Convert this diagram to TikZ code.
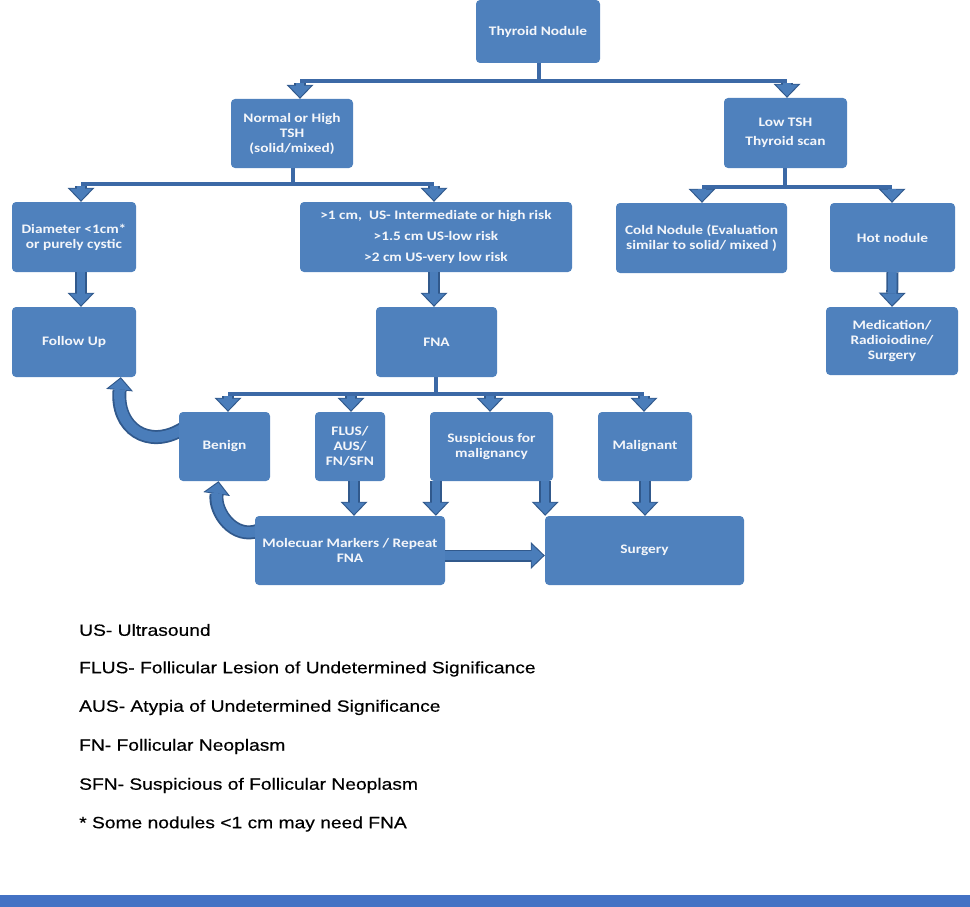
\documentclass[tikz,border=0pt]{standalone}
\usepackage{fontspec}
\newfontfamily\boxfont{Carlito}[FakeStretch=1.18,BoldFont={Carlito Bold}]
\newfontfamily\legfont{Liberation Sans}[FakeStretch=1.18,FakeBold=0.4]
\usetikzlibrary{arrows.meta,backgrounds}
\definecolor{boxblue}{HTML}{4F81BD}
\definecolor{arrfill}{HTML}{4A7DBA}
\definecolor{arrdark}{HTML}{31598C}
\definecolor{lineblue}{HTML}{3C69A6}
\definecolor{barblue}{HTML}{4472C4}
\definecolor{txtwhite}{HTML}{F4F6FA}
\tikzset{
  box/.style={fill=boxblue, rounded corners=4pt, inner sep=2pt, align=center,
    text=txtwhite, font=\boxfont\bfseries\fontsize{13}{15}\selectfont},
  blk/.style={line width=12pt, draw=arrdark,
    -{Triangle[width=27pt,length=14pt,line width=0pt]},
    postaction={draw=arrfill, line width=8.5pt,
      -{Triangle[width=22pt,length=11.5pt,line width=0pt]}, shorten >=1.6pt}},
  cblk/.style={line width=14pt, draw=arrdark,
    -{Triangle[width=27pt,length=13pt,line width=0pt]},
    postaction={draw=arrfill, line width=10.5pt,
      -{Triangle[width=22pt,length=10.5pt,line width=0pt]}, shorten >=1.6pt}},
  conn/.style={draw=lineblue, line width=4pt},
  leg/.style={anchor=west, inner sep=0pt, font=\legfont\fontsize{16.3}{18}\selectfont}
}
\begin{document}
\begin{tikzpicture}[x=1pt,y=-1pt]
\useasboundingbox (0,0) rectangle (970,907);
\fill[barblue] (0,895) rectangle (970,907);
% boxes
\node[box, minimum width=124pt, minimum height=63pt] (tn) at (538,31.5) {Thyroid Nodule};
\node[box, minimum width=122pt, minimum height=69pt] (nh) at (292,133.5) {Normal or High\\TSH\\(solid/mixed)};
\node[box, minimum width=123pt, minimum height=70pt, font=\boxfont\bfseries\fontsize{13}{19}\selectfont] (lt) at (785.5,133) {Low TSH\\Thyroid scan};
\node[box, minimum width=124pt, minimum height=70pt] (dm) at (74,237) {Diameter {<}1cm*\\or purely cystic};
\node[box, minimum width=272pt, minimum height=70pt, font=\boxfont\bfseries\fontsize{13}{21}\selectfont] (gt) at (436,237) {>1 cm,\ \ US- Intermediate or high risk\\>1.5 cm US-low risk\\>2 cm US-very low risk};
\node[box, minimum width=171pt, minimum height=70pt] (cn) at (701.5,238) {Cold Nodule (Evaluation\\similar to solid/ mixed )};
\node[box, minimum width=125pt, minimum height=69pt] (hn) at (892.5,237.5) {Hot nodule};
\node[box, minimum width=132pt, minimum height=68pt] (md) at (892,341) {Medication/\\Radioiodine/\\Surgery};
\node[box, minimum width=124pt, minimum height=70pt] (fu) at (74,342) {Follow Up};
\node[box, minimum width=121pt, minimum height=70pt] (fna) at (436.5,342) {FNA};
\node[box, minimum width=91pt, minimum height=69pt] (be) at (224.5,446.5) {Benign};
\node[box, minimum width=70pt, minimum height=69pt] (fl) at (350,446.5) {FLUS/\\AUS/\\FN/SFN};
\node[box, minimum width=123pt, minimum height=69pt] (su) at (491.5,446.5) {Suspicious for\\malignancy};
\node[box, minimum width=94pt, minimum height=69pt] (ma) at (645,446.5) {Malignant};
\node[box, minimum width=190pt, minimum height=69pt] (mo) at (350,550.5) {Molecuar Markers / Repeat\\FNA};
\node[box, minimum width=199pt, minimum height=69pt] (sg) at (644.5,550.5) {Surgery};
% junction coordinates
\coordinate (j1) at (539,81);
\coordinate (a1) at (300,81);
\coordinate (a2) at (787,81);
\coordinate (j2) at (293,184);
\coordinate (b1) at (81,184);
\coordinate (b2) at (434,184);
\coordinate (j3) at (785,187);
\coordinate (c1) at (702,187);
\coordinate (c2) at (892,187);
\coordinate (j4) at (436,394);
\coordinate (d1) at (228,394);
\coordinate (d2) at (351,394);
\coordinate (d3) at (490,394);
\coordinate (d4) at (644,394);
\begin{scope}[on background layer]
\draw[conn] (tn.south -| j1) -- (j1);
\draw[conn] (a1) -- (a2);
\draw[conn] (nh.south -| j2) -- (j2);
\draw[conn] (b1) -- (b2);
\draw[conn] (lt.south -| j3) -- (j3);
\draw[conn] (c1) -- (c2);
\draw[conn] (fna.south -| j4) -- (j4);
\draw[conn] (d1) -- (d4);
\end{scope}
% block arrows
\draw[blk] ([yshift=-2pt]a1) -- (a1 |- nh.north);
\draw[blk] ([yshift=-2pt]a2) -- (a2 |- lt.north);
\draw[blk] ([yshift=-2pt]b1) -- (b1 |- dm.north);
\draw[blk] ([yshift=-2pt]b2) -- (b2 |- gt.north);
\draw[blk] ([yshift=-2pt]c1) -- (c1 |- cn.north);
\draw[blk] ([yshift=-2pt]c2) -- (c2 |- hn.north);
\draw[blk] (hn.south) -- (md.north);
\draw[blk] ([xshift=7pt]dm.south) -- ([xshift=7pt]fu.north);
\draw[blk] ([xshift=-2pt]gt.south) -- ([xshift=-2.5pt]fna.north);
\draw[blk] ([yshift=-2pt]d1) -- (d1 |- be.north);
\draw[blk] ([yshift=-2pt]d2) -- (d2 |- fl.north);
\draw[blk] ([yshift=-2pt]d3) -- (d3 |- su.north);
\draw[blk] ([yshift=-2pt]d4) -- (d4 |- ma.north);
\draw[blk] ([xshift=4pt]fl.south) -- ([xshift=4pt]fl.south |- mo.north);
\draw[blk] ([xshift=6pt]su.south west) -- ([xshift=6pt]su.south west |- mo.north);
\draw[blk] ([xshift=-8pt]su.south east) -- ([xshift=-8pt]su.south east |- sg.north);
\draw[blk] (ma.south) -- (ma.south |- sg.north);
\draw[blk] ([yshift=-5pt]mo.east) -- ([yshift=-5pt]mo.east -| sg.west);
\begin{scope}[on background layer]
\draw[cblk] ([xshift=4pt,yshift=-17pt]be.north west) .. controls (148,450) and (116,428) .. ([xshift=109pt]fu.south west);
\draw[cblk] ([xshift=4pt,yshift=20pt]mo.west) .. controls (234,540) and (214,512) .. ([xshift=-6pt]be.south);
\end{scope}
% legend
\node[leg] (l1) at (79,630) {US- Ultrasound};
\node[leg] (l2) at (79,669) {FLUS- Follicular Lesion of Undetermined Significance};
\node[leg] (l3) at (79,707.5) {AUS- Atypia of Undetermined Significance};
\node[leg] (l4) at (79,746.5) {FN- Follicular Neoplasm};
\node[leg] (l5) at (79,785.5) {SFN- Suspicious of Follicular Neoplasm};
\node[leg] (l6) at (79,824) {* Some nodules <1 cm may need FNA};
\end{tikzpicture}
\end{document}
